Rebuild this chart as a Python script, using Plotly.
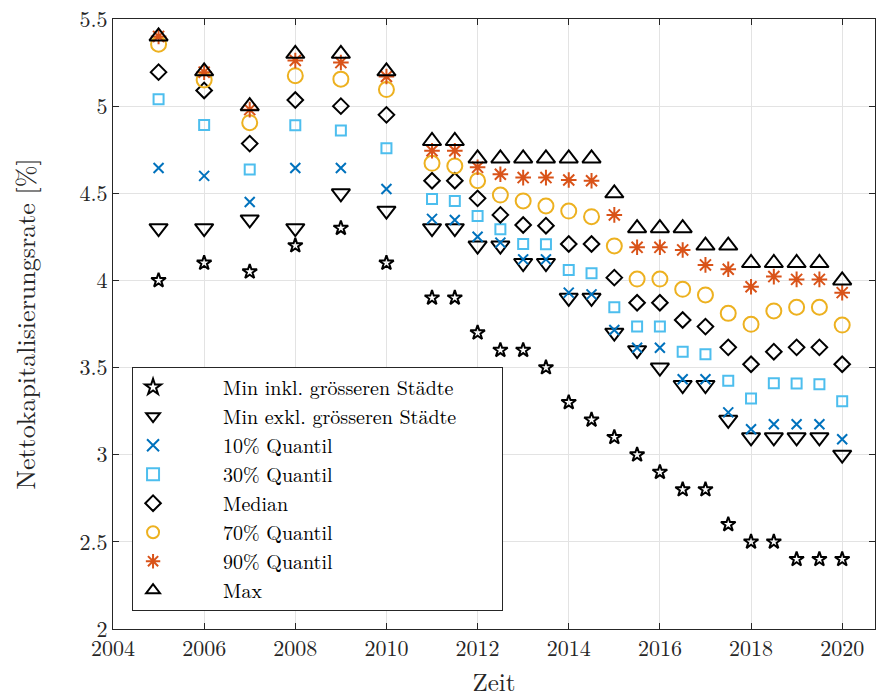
import plotly.graph_objects as go

years = [2005, 2006, 2007, 2008, 2009, 2010, 2011, 2011.5, 2012, 2012.5, 2013, 2013.5,
         2014, 2014.5, 2015, 2015.5, 2016, 2016.5, 2017, 2017.5, 2018, 2018.5, 2019, 2019.5, 2020]

min_inkl = [4.0, 4.1, 4.05, 4.2, 4.3, 4.1, 3.9, 3.9, 3.7, 3.6, 3.6, 3.5,
            3.3, 3.2, 3.1, 3.0, 2.9, 2.8, 2.8, 2.6, 2.5, 2.5, 2.4, 2.4, 2.4]
min_exkl = [4.3, 4.3, 4.35, 4.3, 4.5, 4.4, 4.3, 4.3, 4.2, 4.2, 4.1, 4.1,
            3.9, 3.9, 3.7, 3.6, 3.5, 3.4, 3.4, 3.2, 3.1, 3.1, 3.1, 3.1, 3.0]
q10 = [4.645, 4.6, 4.45, 4.645, 4.645, 4.525, 4.353, 4.347, 4.251, 4.217, 4.121, 4.121,
       3.93, 3.92, 3.716, 3.614, 3.614, 3.433, 3.433, 3.243, 3.146, 3.175, 3.175, 3.175, 3.089]
q30 = [5.04, 4.892, 4.636, 4.89, 4.86, 4.758, 4.467, 4.456, 4.37, 4.293, 4.209, 4.207,
       4.06, 4.041, 3.846, 3.735, 3.735, 3.591, 3.576, 3.425, 3.322, 3.41, 3.408, 3.405, 3.307]
median = [5.195, 5.09, 4.785, 5.035, 5.0, 4.95, 4.572, 4.572, 4.471, 4.376, 4.318, 4.314,
          4.209, 4.209, 4.016, 3.872, 3.872, 3.773, 3.735, 3.616, 3.519, 3.591, 3.616, 3.616, 3.519]
q70 = [5.355, 5.15, 4.905, 5.175, 5.155, 5.095, 4.672, 4.657, 4.572, 4.49, 4.456, 4.427,
       4.398, 4.366, 4.198, 4.008, 4.008, 3.949, 3.917, 3.811, 3.748, 3.825, 3.846, 3.846, 3.744]
q90 = [5.4, 5.195, 4.98, 5.262, 5.25, 5.17, 4.744, 4.744, 4.649, 4.609, 4.59, 4.59,
       4.576, 4.572, 4.376, 4.19, 4.19, 4.175, 4.089, 4.064, 3.964, 4.022, 4.006, 4.006, 3.93]
q_max = [5.4, 5.2, 5.0, 5.3, 5.3, 5.2, 4.8, 4.8, 4.7, 4.7, 4.7, 4.7,
         4.7, 4.7, 4.5, 4.3, 4.3, 4.3, 4.2, 4.2, 4.1, 4.1, 4.1, 4.1, 4.0]

series = [
    ("Min inkl. grösseren Städte", min_inkl, "star-open", "#000000", 11),
    ("Min exkl. grösseren Städte", min_exkl, "triangle-down-open", "#000000", 16),
    ("10% Quantil", q10, "x-thin-open", "#0072BD", 10),
    ("30% Quantil", q30, "square-open", "#4DBEEE", 10),
    ("Median", median, "diamond-open", "#000000", 12),
    ("70% Quantil", q70, "circle-open", "#EDB120", 15),
    ("90% Quantil", q90, "asterisk-open", "#D95319", 13),
    ("Max", q_max, "triangle-up-open", "#000000", 16),
]

FONT = "Latin Modern Roman, CMU Serif, Liberation Serif, serif"
NB = "\u00a0"

fig = go.Figure()
for name, vals, sym, col, size in series:
    fig.add_trace(go.Scatter(
        x=years, y=vals, mode="markers", name=NB * 5 + name + NB * 4,
        marker=dict(symbol=sym, size=size, color=col,
                    line=dict(color=col, width=2)),
    ))

axis_common = dict(
    showline=True, linecolor="#262626", linewidth=1, mirror="ticks",
    ticks="inside", ticklen=6, tickcolor="#262626",
    showgrid=True, gridcolor="#e3e3e3", gridwidth=1, zeroline=False,
    tickfont=dict(family=FONT, size=22, color="#262626"),
)

fig.update_layout(
    width=876, height=698,
    margin=dict(l=113, r=1, t=19, b=69),
    plot_bgcolor="white", paper_bgcolor="white",
    font=dict(family=FONT, size=22, color="#262626"),
    xaxis=dict(range=[2004, 2020.72], tickvals=[2004, 2006, 2008, 2010, 2012, 2014, 2016, 2018, 2020],
               title=dict(text="Zeit", font=dict(family=FONT, size=25, color="#262626"), standoff=14),
               **axis_common),
    yaxis=dict(range=[2, 5.5], tickvals=[2, 2.5, 3, 3.5, 4, 4.5, 5, 5.5],
               ticktext=["2", "2.5", "3", "3.5", "4", "4.5", "5", "5.5"],
               title=dict(text="Nettokapitalisierungsrate [%]", font=dict(family=FONT, size=26, color="#262626"), standoff=36),
               **axis_common),
    legend=dict(x=0.025, y=0.43, xanchor="left", yanchor="top",
                bgcolor="white", bordercolor="#262626", borderwidth=1,
                font=dict(family=FONT, size=20, color="#000000"),
                tracegroupgap=0, itemsizing="constant"),
    showlegend=True,
)

fig.write_html("out.html")
